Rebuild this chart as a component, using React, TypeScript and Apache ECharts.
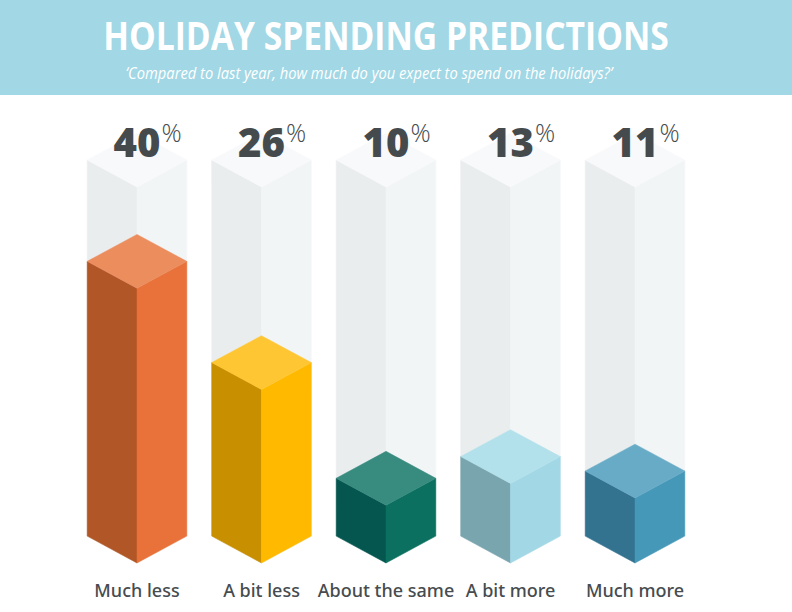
import React, { useEffect, useRef } from "react";
import * as echarts from "echarts";

const TITLE = "HOLIDAY SPENDING PREDICTIONS";
const SUBTITLE = "\u2018Compared to last year, how much do you expect to spend on the holidays?\u2019";
const CATEGORIES = ["Much less", "A bit less", "About the same", "A bit more", "Much more"];
const VALUES = [40, 26, 10, 13, 11];
const TRACK_MAX = 54;
const AXIS_MIN = 2;

const TOP_COLORS = ["#ec8d5e", "#ffc633", "#388b7f", "#b3e1eb", "#68abc6"];
const LEFT_COLORS = ["#b05627", "#c88f00", "#065650", "#79a5af", "#337390"];
const RIGHT_COLORS = ["#e8723a", "#ffba00", "#0b7060", "#a2d8e6", "#4598b8"];

let measureCtx: CanvasRenderingContext2D | null = null;
function measure(text: string, font: string): number {
  if (!measureCtx) measureCtx = document.createElement("canvas").getContext("2d");
  if (!measureCtx) return text.length * 10;
  measureCtx.font = font;
  return measureCtx.measureText(text).width;
}

function prism(cx: number, yTop: number, yBot: number, hw: number, dy: number, top: string, left: string, right: string) {
  const mk = (points: number[][], fill: string) => ({
    type: "polygon",
    shape: { points },
    style: { fill, stroke: fill, lineWidth: 0.5 },
  });
  return [
    mk([[cx - hw, yBot - dy], [cx, yBot], [cx, yTop], [cx - hw, yTop - dy]], left),
    mk([[cx, yBot], [cx + hw, yBot - dy], [cx + hw, yTop - dy], [cx, yTop]], right),
    mk([[cx, yTop], [cx - hw, yTop - dy], [cx, yTop - 2 * dy], [cx + hw, yTop - dy]], top),
  ];
}

export default function App() {
  const ref = useRef<HTMLDivElement>(null);
  useEffect(() => {
    document.body.style.margin = "0";
    const chart = echarts.init(ref.current!, null, { renderer: "svg" });
    const titleFont = "bold 39px 'Open Sans'";
    const titleScale = 566 / measure(TITLE, titleFont);
    const subFont = "italic 400 16px 'Open Sans'";
    const subScale = 487 / measure(SUBTITLE, subFont);
    const numFont = "800 40px 'Open Sans'";

    const option: any = {
      animation: false,
      backgroundColor: "#ffffff",
      grid: { left: 74.75, right: 94.75, top: 187, bottom: 49 },
      xAxis: {
        type: "category",
        data: CATEGORIES,
        axisLine: { show: false },
        axisTick: { show: false },
        splitLine: { show: false },
        axisLabel: {
          interval: 0,
          margin: 27,
          verticalAlign: "middle",
          fontFamily: "'Noto Sans'",
          fontWeight: 500,
          fontSize: 18,
          color: "#464c4f",
        },
      },
      yAxis: { type: "value", min: AXIS_MIN, max: TRACK_MAX, show: false },
      graphic: [
        { type: "rect", shape: { x: 0, y: 0, width: 792, height: 95 }, style: { fill: "#a2d7e5" }, z: 0 },
        {
          type: "text",
          x: 386,
          y: 35,
          scaleX: titleScale,
          style: {
            text: TITLE,
            fill: "#ffffff",
            font: titleFont,
            textAlign: "center",
            textVerticalAlign: "middle",
          },
        },
        {
          type: "text",
          x: 369,
          y: 73,
          scaleX: subScale,
          style: {
            text: SUBTITLE,
            fill: "#ffffff",
            font: subFont,
            textAlign: "center",
            textVerticalAlign: "middle",
          },
        },
      ],
      series: [
        {
          type: "custom",
          name: "track",
          clip: false,
          encode: { x: 0, y: 1 },
          data: CATEGORIES.map((_, i) => [i, TRACK_MAX, VALUES[i]]),
          renderItem: (params: any, api: any) => {
            const i = api.value(0);
            const top = api.coord([i, api.value(1)]);
            const bot = api.coord([i, AXIS_MIN]);
            const hw = api.size([1, 0])[0] * 0.4;
            const dy = hw * 0.54;
            const numText = String(api.value(2));
            const nw = measure(numText, numFont);
            const cx = top[0];
            const labelY = top[1] - 46;
            return {
              type: "group",
              children: [
                ...prism(cx, top[1], bot[1], hw, dy, "#f8f9fa", "#eaedee", "#f2f5f6"),
                {
                  type: "text",
                  x: cx,
                  y: labelY,
                  style: {
                    text: numText,
                    font: numFont,
                    fill: "#454b4d",
                    textAlign: "center",
                    textVerticalAlign: "middle",
                  },
                },
                {
                  type: "text",
                  x: cx + nw / 2 + 1,
                  y: labelY - 9,
                  style: {
                    text: "%",
                    font: "300 25px 'Open Sans'",
                    fill: "#454b4d",
                    textAlign: "left",
                    textVerticalAlign: "middle",
                  },
                },
              ],
            };
          },
        },
        {
          type: "custom",
          name: "share",
          clip: false,
          encode: { x: 0, y: 1 },
          data: VALUES.map((v, i) => [i, v]),
          renderItem: (params: any, api: any) => {
            const i = api.value(0);
            const top = api.coord([i, api.value(1)]);
            const bot = api.coord([i, AXIS_MIN]);
            const hw = api.size([1, 0])[0] * 0.4;
            const dy = hw * 0.54;
            return {
              type: "group",
              children: prism(top[0], top[1], bot[1], hw, dy, TOP_COLORS[i], LEFT_COLORS[i], RIGHT_COLORS[i]),
            };
          },
        },
      ],
    };
    chart.setOption(option);
    return () => chart.dispose();
  }, []);
  return <div ref={ref} style={{ position: "absolute", left: 0, top: 0, width: 792, height: 612 }} />;
}
